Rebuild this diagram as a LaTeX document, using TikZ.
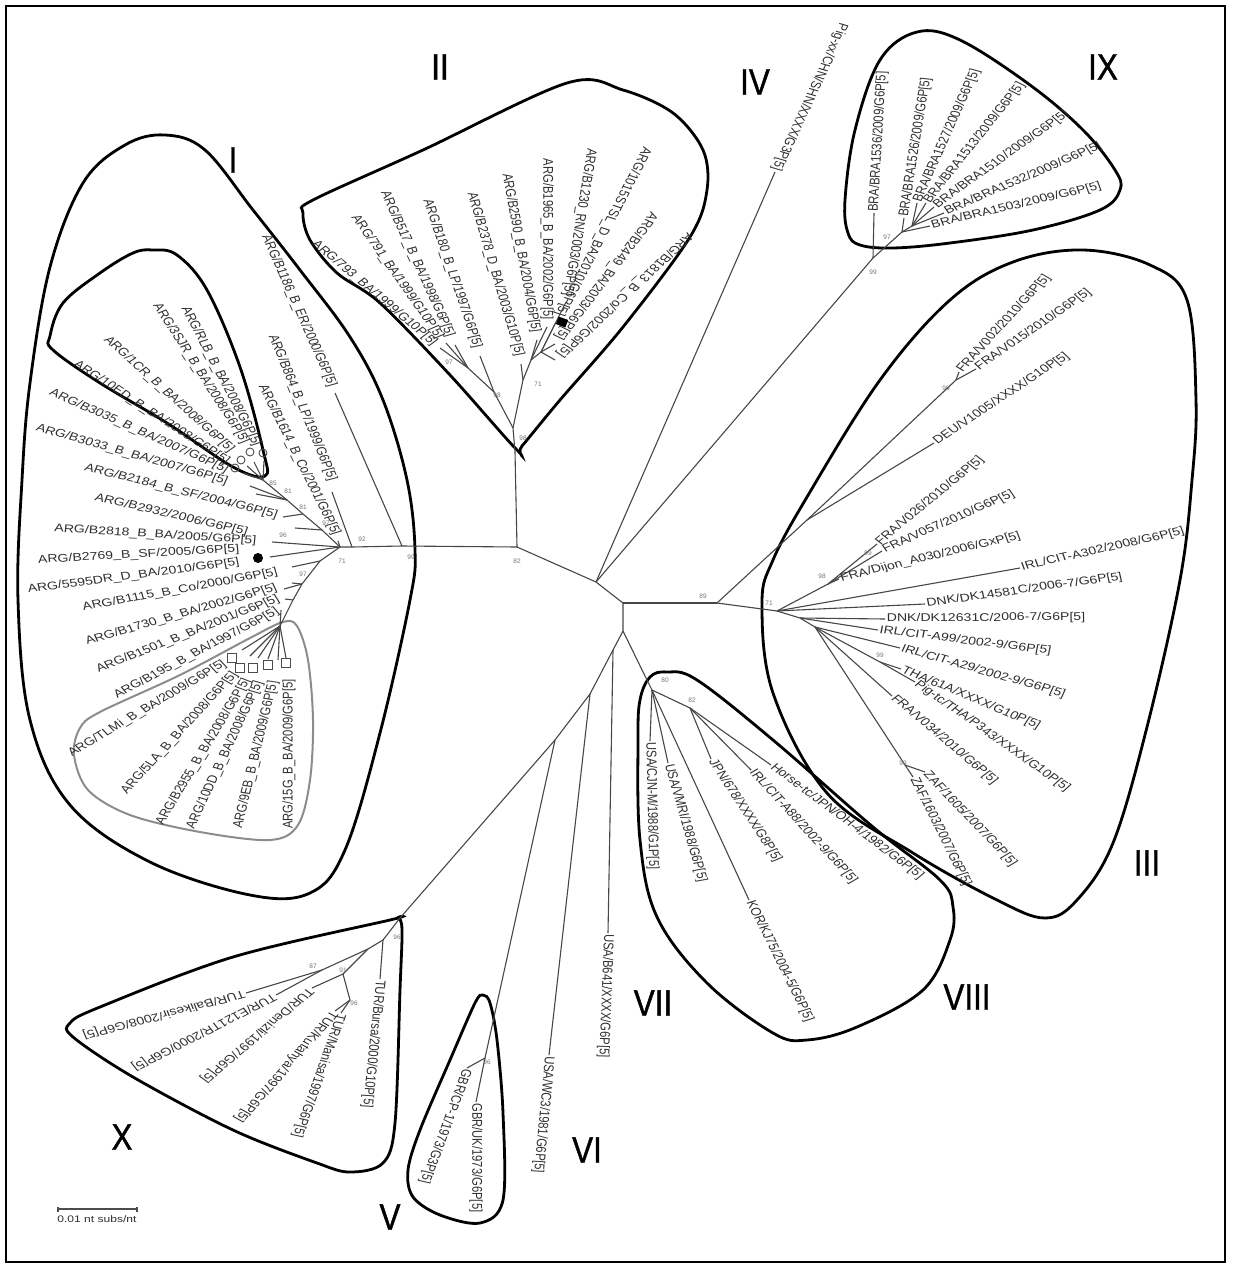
\documentclass[tikz,border=0pt]{standalone}
\usepackage{fontspec}
\setmainfont{Liberation Sans}
\newfontfamily\romanfont[FakeBold=1.2]{Liberation Sans}
\newcommand{\tipleaf}[7]{%
  \coordinate (#1) at #3;
  \draw[br] (#2) -- (#1);
  \node[lf={#5}{#6}] (#1l) at #4 {#7};}
\begin{document}
\begin{tikzpicture}[x=1pt,y=-1pt,
  br/.style={draw=black!72, line width=1.1pt},
  lab/.style={font=\fontsize{11.2}{12}\selectfont, text=black!82, inner sep=1.2pt},
  lf/.style 2 args={lab, xscale=1.26, rotate=#1, anchor=#2},
  bs/.style={font=\fontsize{6.5}{7}\selectfont, text=black!55, inner sep=0pt},
  ring/.style={draw=black, line width=2.8pt},
  gring/.style={draw=black!45, line width=2pt},
  roman/.style={font=\romanfont\fontsize{37}{40}\selectfont, xscale=0.85, inner sep=0pt, text=black},
  circ/.style={circle, draw=black!70, line width=0.9pt, minimum size=8pt, inner sep=0pt},
  sqr/.style={rectangle, draw=black!70, line width=0.9pt, minimum size=8.5pt, inner sep=0pt},
]
\useasboundingbox (0,0) rectangle (1232,1268);
\draw[line width=2.6pt] (6,6) rectangle (1225,1262);

% ---------- cluster outlines ----------
\draw[ring] plot[smooth cycle, tension=0.6] coordinates {(165,135) (205,150) (253,210) (300,270) (350,337) (383,400) (407,480) (415,550) (410,600) (380,733) (345,850) (310,893) (250,895) (150,862) (70,805) (30,720) (18,600) (22,480) (30,383) (50,267) (83,183) (125,145)};
\draw[ring] plot[smooth cycle, tension=0.6] coordinates {(153,250) (177,255) (207,290) (240,367) (263,450) (265,476) (233,467) (167,423) (100,383) (53,350) (50,336) (63,303) (100,273) (133,253)};
\draw[gring] plot[smooth cycle, tension=0.55] coordinates {(283,622) (297,626) (308,660) (313,720) (310,780) (298,825) (270,840) (200,832) (130,815) (88,790) (74,755) (80,728) (100,712) (180,675) (250,638)};
\draw[ring] plot[smooth cycle, tension=0.55] coordinates {(517,450) (450,375) (380,303) (337,273) (310,240) (303,213) (313,200) (423,150) (567,83) (623,90) (673,113) (703,150) (707,190) (690,237) (623,327) (560,400) (522,446)};
\draw[ring] plot[smooth cycle, tension=0.6] coordinates {(848,233) (845,200) (855,130) (880,60) (917,32) (960,40) (1030,85) (1083,130) (1115,170) (1120,190) (1100,210) (1033,230) (950,243) (893,248) (860,245)};
\draw[ring] plot[smooth cycle, tension=0.6] coordinates {(1083,250) (1150,265) (1187,300) (1196,400) (1192,480) (1180,580) (1147,727) (1113,843) (1077,900) (1045,918) (997,900) (913,853) (827,793) (773,693) (762,603) (773,560) (807,497) (880,380) (950,300) (1013,262)};
\draw[ring] plot[smooth cycle, tension=0.6] coordinates {(650,677) (667,672) (697,680) (773,740) (873,827) (940,880) (953,907) (950,940) (923,990) (857,1027) (807,1040) (773,1033) (707,983) (657,917) (640,840) (638,740) (640,700)};
\draw[ring] plot[smooth cycle, tension=0.55] coordinates {(483,995) (490,1003) (497,1040) (503,1113) (503,1200) (480,1223) (440,1215) (413,1197) (408,1170) (420,1130) (450,1060) (475,1003)};
\draw[ring] plot[smooth cycle, tension=0.55] coordinates {(398,918) (402,930) (400,990) (395,1123) (383,1163) (350,1172) (317,1163) (233,1130) (133,1077) (73,1037) (70,1023) (100,1007) (233,957) (390,920)};

% ---------- backbone ----------
\coordinate (N82) at (517,547);
\coordinate (R2) at (515,452);
\coordinate (N99) at (402,546);
\coordinate (N92) at (352,547);
\coordinate (NI) at (340,547);
\coordinate (B) at (596,582);
\coordinate (C) at (623,603);
\coordinate (D) at (623,631);
\coordinate (C89) at (717,603);
\coordinate (D2) at (613,650);
\coordinate (D3) at (590,694);
\coordinate (D4) at (555,740);
\coordinate (IXr) at (873,258);
\coordinate (Xr) at (400,918);
\draw[br] (R2) -- (N82) -- (N99) -- (N92) -- (NI);
\draw[br] (N82) -- (B) -- (C) -- (D) -- (D2) -- (D3) -- (D4) -- (Xr);
\draw[br] (C) -- (C89);
\draw[br] (B) -- (IXr);

% ---------- cluster I ----------
\coordinate (I97) at (322,530);
\coordinate (I81) at (303,514);
\coordinate (I81b) at (287,500);
\coordinate (I85) at (263,480);
\coordinate (IL1) at (320,561);
\coordinate (IL2) at (302,584);
\coordinate (IL3) at (293,600);
\coordinate (IG) at (280,626);
\draw[br] (NI) -- (I97) -- (I81) -- (I81b) -- (I85);
\draw[br] (NI) -- (IL1) -- (IL2) -- (IL3) -- (IG);
\tipleaf{a1}{N99}{(335,393)}{(333,388)}{-70.6}{east}{ARG/B1186\_B\_ER/2000/G6P[5]}
\tipleaf{a2}{N92}{(332,492)}{(333,482)}{-71.8}{east}{ARG/B864\_B\_LP/1999/G6P[5]}
\tipleaf{a3}{NI}{(338,541)}{(337,536)}{-68.4}{east}{ARG/B1614\_B\_Co/2001/G6P[5]}
\tipleaf{a4}{I85}{(264,461)}{(258,447)}{-67.4}{east}{ARG/RLB\_B\_BA/2008/G6P[5]}
\tipleaf{a5}{I85}{(254,462)}{(246,444)}{-63}{east}{ARG/3SJR\_B\_BA/2008/G6P[5]}
\tipleaf{a6}{I85}{(247,466)}{(233,452)}{-48.5}{east}{ARG/1CR\_B\_BA/2008/G6P[5]}
\tipleaf{a7}{I85}{(243,473)}{(229,463)}{-39.2}{east}{ARG/10ED\_B\_BA/2008/G6P[5]}
\tipleaf{a8}{I81b}{(250,486)}{(229,471)}{-29}{east}{ARG/B3035\_B\_BA/2007/G6P[5]}
\tipleaf{a9}{I81b}{(256,494)}{(229,482)}{-19.5}{east}{ARG/B3033\_B\_BA/2007/G6P[5]}
\tipleaf{a10}{I81}{(283,517)}{(279,516)}{-17.4}{east}{ARG/B2184\_B\_SF/2004/G6P[5]}
\tipleaf{a11}{I97}{(295,528)}{(249,533)}{-16.2}{east}{ARG/B2932/2006/G6P[5]}
\tipleaf{a12}{NI}{(272,542)}{(258,541)}{-4.3}{east}{ARG/B2818\_B\_BA/2005/G6P[5]}
\tipleaf{a13}{NI}{(270,557)}{(241,549)}{4}{east}{ARG/B2769\_B\_SF/2005/G6P[5]}
\tipleaf{a14}{IL1}{(292,567)}{(241,562)}{9.3}{east}{ARG/5595DR\_D\_BA/2010/G6P[5]}
\tipleaf{a15}{IL2}{(292,583)}{(279,572)}{12.9}{east}{ARG/B1115\_B\_Co/2000/G6P[5]}
\tipleaf{a16}{IL2}{(284,589)}{(278,587)}{19.9}{east}{ARG/B1730\_B\_BA/2002/G6P[5]}
\tipleaf{a17}{IL3}{(285,599)}{(280,598)}{26.4}{east}{ARG/B1501\_B\_BA/2001/G6P[5]}
\tipleaf{a18}{IG}{(281,610)}{(279,610)}{33.5}{east}{ARG/B195\_B\_BA/1997/G6P[5]}
\node[circle, fill=black, minimum size=10pt, inner sep=0pt] (dot) at (258,558) {};
\node[circ] (c1) at (263,453) {};
\node[circ] (c2) at (250,452) {};
\node[circ] (c3) at (241,460) {};
\node[circ] (c4) at (235,468) {};
% grey subcluster
\tipleaf{g1}{IG}{(242,650)}{(226,662)}{36.7}{east}{ARG/TLMi\_B\_BA/2009/G6P[5]}
\tipleaf{g2}{IG}{(250,656)}{(236,672)}{53.6}{east}{ARG/5LA\_B\_BA/2008/G6P[5]}
\tipleaf{g3}{IG}{(258,658)}{(248,678)}{64.4}{east}{ARG/B2955\_B\_BA/2008/G6P[5]}
\tipleaf{g4}{IG}{(268,659)}{(260,680)}{69.7}{east}{ARG/10DD\_B\_BA/2008/G6P[5]}
\tipleaf{g5}{IG}{(278,660)}{(274,680)}{79.2}{east}{ARG/9EB\_B\_BA/2009/G6P[5]}
\tipleaf{g6}{IG}{(286,658)}{(289,678)}{90}{east}{ARG/15G\_B\_BA/2009/G6P[5]}
\node[sqr] (s1) at (232,658) {};
\node[sqr] (s2) at (240,668) {};
\node[sqr] (s3) at (253,668) {};
\node[sqr] (s4) at (268,665) {};
\node[sqr] (s5) at (286,663) {};

% ---------- cluster II ----------
\coordinate (n2a) at (513,428);
\coordinate (n2L) at (494,392);
\coordinate (n2LL) at (468,368);
\coordinate (n2R) at (523,380);
\coordinate (n2R2) at (531,360);
\coordinate (n2R3) at (541,352);
\draw[br] (R2) -- (n2a) -- (n2L) -- (n2LL);
\draw[br] (n2a) -- (n2R) -- (n2R2) -- (n2R3);
\tipleaf{b1}{n2LL}{(440,348)}{(436,345)}{-46.6}{east}{ARG/793\_BA/1999/G10P[5]}
\tipleaf{b2}{n2LL}{(446,343)}{(441,339)}{-60.8}{east}{ARG/791\_BA/1999/G10P[5]}
\tipleaf{b3}{n2LL}{(455,345)}{(451,338)}{-70.1}{east}{ARG/B517\_B\_BA/1998/G6P[5]}
\tipleaf{b4}{n2L}{(480,356)}{(478,349)}{-74.8}{east}{ARG/B180\_B\_LP/1997/G6P[5]}
\tipleaf{b5}{n2R}{(521,364)}{(520,357)}{-76.7}{east}{ARG/B2378\_D\_BA/2003/G10P[5]}
\tipleaf{b6}{n2R2}{(537,340)}{(536,334)}{-81.6}{east}{ARG/B2590\_B\_BA/2004/G6P[5]}
\tipleaf{b7}{n2R2}{(547,327)}{(547,321)}{-90}{east}{ARG/B1965\_B\_BA/2002/G6P[5]}
\tipleaf{b8}{n2R3}{(566,302)}{(567,297)}{-97.4}{east}{ARG/B1230\_RN/2003/G6P[5]}
\tipleaf{b9}{n2R3}{(556,322)}{(558,317)}{-112.7}{east}{ARG/1015STSL\_D\_BA/2010/G6P[5]}
\tipleaf{b10}{n2R3}{(555,344)}{(557,340)}{-121.3}{east}{ARG/B2449\_BA/2003/G6P[5]}
\tipleaf{b11}{n2R3}{(555,360)}{(558,357)}{-130.5}{east}{ARG/B1813\_B\_Co/2002/G6P[5]}
\node[rectangle, fill=black, minimum width=10pt, minimum height=8pt, inner sep=0pt, rotate=-20] (bsq) at (562,322) {};

% ---------- IV ----------
\tipleaf{iv}{B}{(775,172)}{(775,172)}{-110.1}{east}{Pig-xx/CHN/SHN/XXXX/G3P[5]}

% ---------- IX ----------
\coordinate (IX97) at (902,232);
\coordinate (IXn) at (912,226);
\draw[br] (IXr) -- (IX97) -- (IXn);
\tipleaf{x1}{IXr}{(874,213)}{(874,213)}{87.3}{west}{BRA/BRA1536/2009/G6P[5]}
\tipleaf{x2}{IX97}{(904,218)}{(904,218)}{82.7}{west}{BRA/BRA1526/2009/G6P[5]}
\tipleaf{x3}{IXn}{(917,203)}{(917,203)}{70.6}{west}{BRA/BRA1527/2009/G6P[5]}
\tipleaf{x4}{IXn}{(926,203)}{(926,203)}{57.5}{west}{BRA/BRA1513/2009/G6P[5]}
\tipleaf{x5}{IXn}{(934,207)}{(934,207)}{41.8}{west}{BRA/BRA1510/2009/G6P[5]}
\tipleaf{x6}{IXn}{(944,213)}{(944,213)}{28.5}{west}{BRA/BRA1532/2009/G6P[5]}
\tipleaf{x7}{IX97}{(930,226)}{(930,226)}{16.5}{west}{BRA/BRA1503/2009/G6P[5]}

% ---------- III ----------
\coordinate (N3up) at (807,520);
\coordinate (N3v) at (956,380);
\coordinate (N3a) at (777,611);
\coordinate (N3d) at (828,584);
\coordinate (N3b) at (800,618);
\coordinate (N3c) at (815,627);
\coordinate (N3t) at (880,662);
\coordinate (N3z) at (905,765);
\draw[br] (C89) -- (N3up) -- (N3v);
\draw[br] (C89) -- (N3a) -- (N3d);
\draw[br] (N3a) -- (N3b) -- (N3c) -- (N3t);
\draw[br] (N3c) -- (N3z);
\tipleaf{t1}{N3v}{(959,372)}{(959,372)}{53.7}{west}{FRA/V002/2010/G6P[5]}
\tipleaf{t2}{N3v}{(976,369)}{(976,369)}{40.9}{west}{FRA/V015/2010/G6P[5]}
\tipleaf{t3}{N3up}{(934,443)}{(934,443)}{39.7}{west}{DEU/V1005/XXXX/G10P[5]}
\tipleaf{t4}{N3d}{(877,544)}{(877,544)}{45.8}{west}{FRA/V026/2010/G6P[5]}
\tipleaf{t5}{N3d}{(882,551)}{(882,551)}{28.8}{west}{FRA/V057/2010/G6P[5]}
\tipleaf{t6}{N3d}{(839,579)}{(839,579)}{16.8}{west}{FRA/Dijon\_A030/2006/GxP[5]}
\tipleaf{t7}{N3a}{(1020,568)}{(1020,568)}{15.8}{west}{IRL/CIT-A302/2008/G6P[5]}
\tipleaf{t8}{N3a}{(925,604)}{(925,604)}{9.9}{west}{DNK/DK14581C/2006-7/G6P[5]}
\tipleaf{t9}{N3b}{(885,619)}{(885,619)}{0.6}{west}{DNK/DK12631C/2006-7/G6P[5]}
\tipleaf{t10}{N3b}{(878,630)}{(878,630)}{-8.9}{west}{IRL/CIT-A99/2002-9/G6P[5]}
\tipleaf{t11}{N3c}{(900,648)}{(900,648)}{-19.7}{west}{IRL/CIT-A29/2002-9/G6P[5]}
\tipleaf{t12}{N3t}{(901,669)}{(901,669)}{-27.7}{west}{THA/61A/XXXX/G10P[5]}
\tipleaf{t13}{N3t}{(915,682)}{(915,682)}{-41.4}{west}{Pig-tc/THA/P343/XXXX/G10P[5]}
\tipleaf{t14}{N3c}{(892,696)}{(892,696)}{-46.5}{west}{FRA/V034/2010/G6P[5]}
\tipleaf{t15}{N3z}{(925,772)}{(925,772)}{-52.7}{west}{ZAF/1605/2007/G6P[5]}
\tipleaf{t16}{N3z}{(913,777)}{(913,777)}{-68.3}{west}{ZAF/1603/2007/G6P[5]}

% ---------- VIII ----------
\coordinate (V8a) at (645,676);
\coordinate (V8b) at (652,690);
\coordinate (V8c) at (690,708);
\draw[br] (D) -- (V8a) -- (V8b) -- (V8c);
\tipleaf{e1}{V8b}{(650,741)}{(650,741)}{-88.9}{west}{USA/CJN-M/1988/G1P[5]}
\tipleaf{e2}{V8b}{(668,763)}{(668,763)}{-77.1}{west}{USA/VMRI/1988/G6P[5]}
\tipleaf{e3}{V8b}{(749,900)}{(749,900)}{-68.4}{west}{KOR/KJ75/2004-5/G6P[5]}
\tipleaf{e4}{V8c}{(711,759)}{(711,759)}{-62.5}{west}{JPN/678/XXXX/G8P[5]}
\tipleaf{e5}{V8c}{(751,770)}{(751,770)}{-53.8}{west}{IRL/CIT-A88/2002-9/G6P[5]}
\tipleaf{e6}{V8c}{(771,765)}{(771,765)}{-43.2}{west}{Horse-tc/JPN/OH-4/1982/G6P[5]}

% ---------- VII, VI ----------
\tipleaf{f1}{D2}{(608,933)}{(608,933)}{-91.8}{west}{USA/B641/XXXX/G6P[5]}
\tipleaf{f2}{D3}{(549,1055)}{(549,1055)}{-94.3}{west}{USA/WC3/1981/G6P[5]}

% ---------- V ----------
\coordinate (Vn) at (485,1058);
\draw[br] (D4) -- (Vn);
\tipleaf{v1}{Vn}{(476,1102)}{(476,1102)}{-90}{west}{GBR/UK/1973/G6P[5]}
\tipleaf{v2}{Vn}{(467,1068)}{(467,1068)}{-106.6}{west}{GBR/CP-1/1973/G3P[5]}

% ---------- X ----------
\coordinate (Xa) at (383,940);
\coordinate (Xb) at (368,949);
\coordinate (X87) at (322,970);
\coordinate (X91) at (343,974);
\coordinate (X96) at (350,1000);
\draw[br] (Xr) -- (Xa) -- (Xb) -- (X87);
\draw[br] (Xb) -- (X91) -- (X96);
\tipleaf{w1}{Xa}{(380,979)}{(380,979)}{-94.7}{west}{TUR/Bursa/2000/G10P[5]}
\tipleaf{w2}{X87}{(246,993)}{(246,993)}{-161.8}{west}{TUR/Balikesir/2008/G6P[5]}
\tipleaf{w3}{X87}{(276,995)}{(276,995)}{-147.4}{west}{TUR/E121TR/2000/G6P[5]}
\tipleaf{w4}{X91}{(312,988)}{(312,988)}{-133}{west}{TUR/Denizli/1997/G6P[5]}
\tipleaf{w5}{X96}{(335,1011)}{(335,1011)}{-125.1}{west}{TUR/Kutahya/1997/G6P[5]}
\tipleaf{w6}{X96}{(341,1013)}{(341,1013)}{-105.8}{west}{TUR/Manisa/1997/G6P[5]}

% ---------- bootstrap values ----------
\node[bs] (q1) at (517,561) {82};
\node[bs] (q2) at (411,557) {99};
\node[bs] (q3) at (362,539) {92};
\node[bs] (q4) at (342,561) {71};
\node[bs] (q5) at (283,535) {96};
\node[bs] (q6) at (303,507) {81};
\node[bs] (q7) at (288,491) {81};
\node[bs] (q8) at (273,483) {85};
\node[bs] (q9) at (326,523) {97};
\node[bs] (q10) at (303,574) {97};
\node[bs] (q11) at (523,438) {98};
\node[bs] (q12) at (497,395) {98};
\node[bs] (q13) at (449,362) {97};
\node[bs] (q14) at (538,384) {71};
\node[bs] (q15) at (703,596) {89};
\node[bs] (q16) at (769,603) {71};
\node[bs] (q17) at (822,576) {98};
\node[bs] (q18) at (946,388) {99};
\node[bs] (q19) at (868,553) {99};
\node[bs] (q20) at (880,655) {99};
\node[bs] (q21) at (903,763) {99};
\node[bs] (q22) at (873,272) {99};
\node[bs] (q23) at (887,237) {97};
\node[bs] (q24) at (665,680) {80};
\node[bs] (q25) at (692,700) {82};
\node[bs] (q26) at (397,937) {96};
\node[bs] (q27) at (313,966) {87};
\node[bs] (q28) at (343,970) {91};
\node[bs] (q29) at (354,1003) {96};
\node[bs] (q30) at (487,1062) {96};

% ---------- roman numerals ----------
\node[roman] (rI) at (233,160) {I};
\node[roman] (rII) at (440,67) {II};
\node[roman] (rIV) at (755,82) {IV};
\node[roman] (rIX) at (1103,67) {IX};
\node[roman] (rIII) at (1147,863) {III};
\node[roman] (rVIII) at (967,997) {VIII};
\node[roman] (rVII) at (653,1003) {VII};
\node[roman] (rVI) at (587,1150) {VI};
\node[roman] (rV) at (390,1217) {V};
\node[roman] (rX) at (122,1137) {X};

% ---------- scale bar ----------
\coordinate (sb1) at (58,1209);
\coordinate (sb2) at (137,1209);
\draw[black!70, line width=1.1pt] (sb1) -- (sb2);
\draw[black!70, line width=1.1pt] ([yshift=-2.5pt]sb1) -- ([yshift=2.5pt]sb1);
\draw[black!70, line width=1.1pt] ([yshift=-2.5pt]sb2) -- ([yshift=2.5pt]sb2);
\node[lab, xscale=1.27, font=\fontsize{9.5}{10}\selectfont] (sbt) at (97,1219) {0.01 nt subs/nt};
\end{tikzpicture}
\end{document}
